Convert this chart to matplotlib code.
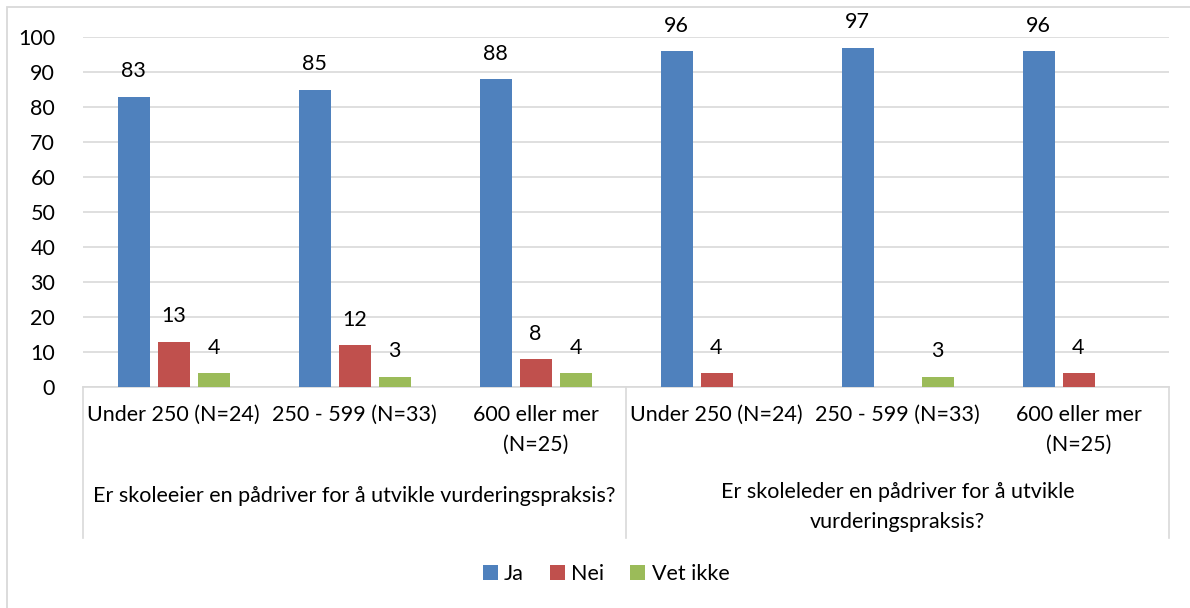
import matplotlib.pyplot as plt
from matplotlib.transforms import blended_transform_factory
from matplotlib.patches import Rectangle
import numpy as np

plt.rcParams['font.family'] = ['Lato', 'DejaVu Sans']

# data
categories = ["Under 250 (N=24)", "250 - 599 (N=33)", "600 eller mer\n(N=25)",
              "Under 250 (N=24)", "250 - 599 (N=33)", "600 eller mer\n(N=25)"]
groups = ["Er skoleeier en pådriver for å utvikle vurderingspraksis?",
          "Er skoleleder en pådriver for å utvikle\nvurderingspraksis?"]
series_names = ["Ja", "Nei", "Vet ikke"]
ja = [83, 85, 88, 96, 97, 96]
nei = [13, 12, 8, 4, 0, 4]
vet_ikke = [4, 3, 4, 0, 3, 0]
colors = ["#4F81BD", "#C0504D", "#9BBB59"]

fs = 15.5
W, H = 1190, 608
fig = plt.figure(figsize=(W / 100, H / 100), dpi=100)
# chart area border (right and bottom fall outside the picture)
fig.patches.append(Rectangle((7 / W, -0.1), 1.2, 1.1 - 7 / H, transform=fig.transFigure,
                             fill=False, edgecolor="#D9D9D9", linewidth=1.3))

x0, x1, ytop, ybot = 83, 1169, 37, 387
ax = fig.add_axes([x0 / W, 1 - ybot / H, (x1 - x0) / W, (ybot - ytop) / H])

x = np.arange(len(categories))
bw = 32 / 181
step = 40 / 181
for i, (name, vals) in enumerate(zip(series_names, [ja, nei, vet_ikke])):
    pos = x + (i - 1) * step
    ax.bar(pos, vals, width=bw, color=colors[i], label=name, zorder=3)
    for p, v in zip(pos, vals):
        if v > 0:
            ax.annotate(str(v), (p, v), xytext=(0, 11), textcoords="offset points",
                        ha="center", va="bottom", fontsize=fs)

ax.set_xlim(-0.5, len(categories) - 0.5)
ax.set_ylim(0, 100)
ax.set_yticks(np.arange(0, 101, 10))
ax.yaxis.grid(True, color="#D9D9D9", linewidth=1.2, zorder=0)
ax.tick_params(axis="y", length=0, labelsize=fs, pad=20)
ax.set_xticks([])
for s in ["top", "right", "left"]:
    ax.spines[s].set_visible(False)
ax.spines["bottom"].set_color("#D9D9D9")
ax.spines["bottom"].set_linewidth(1.2)

# multi level category axis
tr = blended_transform_factory(ax.transData, fig.transFigure)
for sep in [-0.5, 2.5, 5.5]:
    ax.plot([sep, sep], [1 - ybot / H, 1 - 538 / H], transform=tr, color="#D9D9D9",
            linewidth=1.2, clip_on=False)
for xi, lab in zip(x, categories):
    ax.text(xi, 1 - 405 / H, lab, transform=tr, ha="center", va="top",
            fontsize=fs, linespacing=1.6)
ax.text(1, 1 - 486 / H, groups[0], transform=tr, ha="center", va="top", fontsize=fs)
ax.text(4, 1 - 482 / H, groups[1], transform=tr, ha="center", va="top", fontsize=fs,
        linespacing=1.6)

fig.legend(loc="center", bbox_to_anchor=(606 / W, 1 - 574 / H), ncol=3, frameon=False,
           fontsize=fs, handlelength=0.7, handleheight=0.7, handletextpad=0.3,
           columnspacing=1.2)

fig.savefig("out.png", dpi=100)
